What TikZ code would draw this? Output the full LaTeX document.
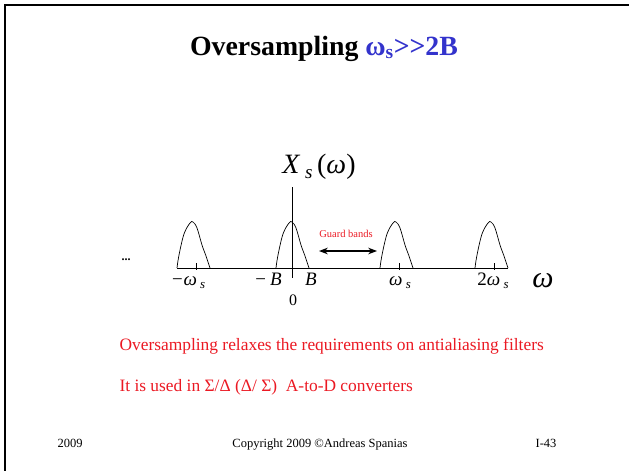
\documentclass[tikz,border=0pt]{standalone}
\usepackage{fontspec}
\setmainfont{Liberation Serif}
\usetikzlibrary{arrows.meta,positioning}
\definecolor{titleblue}{RGB}{51,51,204}
\definecolor{slidered}{RGB}{235,25,35}
\newcommand{\lowsub}[1]{\raisebox{-0.45ex}{\scalebox{0.68}{#1}}}

\begin{document}
\begin{tikzpicture}[x=1pt, y=-1pt, >=Stealth,
    pulse/.style={line width=0.7pt},
    axlabel/.style={anchor=base, font=\fontsize{19}{19}\selectfont\itshape},
    redline/.style={anchor=base west, text=slidered, font=\fontsize{17.4}{17.4}\selectfont},
    footer/.style={anchor=base, font=\fontsize{12.5}{12.5}\selectfont}]
    \useasboundingbox (0,0) rectangle (629,471);
    \draw[line width=2pt] (5,471) -- (5,5) -- (629,5);

    % title
    \node[anchor=base, font=\fontsize{27.8}{27.8}\selectfont\bfseries] (title) at (324,55)
        {Oversampling \textcolor{titleblue}{ω\textsubscript{s}>{}>2B}};

    % spectrum
    \coordinate (axL) at (177,268);
    \coordinate (axR) at (508,268);
    \coordinate (vtop) at (292,187);
    \coordinate (vbot) at (292,278);
    \draw[line width=0.7pt] (axL) -- (axR);
    \draw[line width=0.7pt] (vtop) -- (vbot);
    \foreach \c in {193,292,396,491}
        \draw[pulse] plot[smooth, tension=0.6] coordinates {({\c-16},268) ({\c-14},255) ({\c-9},234)
            ({\c-3},223) (\c,222) ({\c+4},228) ({\c+9},245) ({\c+13},256) ({\c+17},268)};
    \foreach \t in {196,399,494}
        \draw[line width=0.7pt] (\t,263) -- (\t,270);

    \node[anchor=base, font=\fontsize{28}{28}\selectfont] (xs) at (319,173)
        {\textit{X}\,\lowsub{\textit{s}}\,(\textit{ω})};
    \node[anchor=base, font=\fontsize{12}{12}\selectfont\bfseries] (dots) at (126,260) {...};

    \node[axlabel] (mws) at (188,285) {−ω\,\lowsub{s}};
    \node[axlabel] (mb) at (268,285) {−\,B};
    \node[anchor=base, font=\fontsize{16}{16}\selectfont] (zero) at (293,305) {0};
    \node[axlabel] (pb) at (311,285) {B};
    \node[axlabel] (ws) at (400,285) {ω\,\lowsub{s}};
    \node[axlabel] (tws) at (493,285) {\upshape 2\itshape ω\,\lowsub{s}};
    \node[anchor=base, font=\fontsize{30}{30}\selectfont\itshape] (om) at (543,287) {ω};

    % guard bands
    \node[text=slidered, font=\fontsize{10.5}{10.5}\selectfont] (guard) at (346,234) {Guard bands};
    \coordinate (gbL) at (319,251);
    \coordinate (gbR) at (377,251);
    \draw[<->, line width=1.3pt] (gbL) -- (gbR);

    % remarks
    \node[redline] (rem1) at (116,350) {Oversampling relaxes the requirements on antialiasing filters};
    \node[redline] (rem2) at (116,391) {It is used in Σ/Δ (Δ/ Σ)\ \ A-to-D converters};

    % footer
    \node[footer] (year) at (70,447) {2009};
    \node[footer] (copy) at (320,447) {Copyright 2009 ©Andreas Spanias};
    \node[footer] (page) at (546,447) {I-43};
\end{tikzpicture}
\end{document}
